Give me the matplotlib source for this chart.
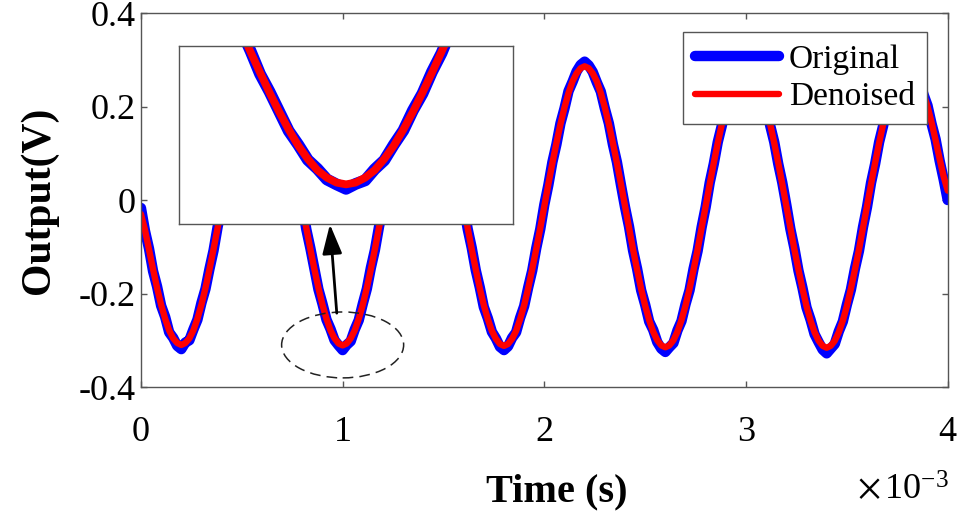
import numpy as np
import matplotlib.pyplot as plt
from matplotlib.patches import Ellipse

plt.rcParams['font.family'] = ['Liberation Serif', 'DejaVu Serif']
plt.rcParams['mathtext.fontset'] = 'stix'

# sample times (s), 0.02 ms spacing
time = np.linspace(0, 4e-3, 201)

# denoised output (V)
denoised = [
    -0.030, -0.064, -0.106, -0.148, -0.188, -0.224, -0.254, -0.279, -0.296, -0.306,
    -0.310, -0.306, -0.296, -0.279, -0.254, -0.224, -0.188, -0.148, -0.105, -0.060,
    -0.013, 0.034, 0.079, 0.122, 0.162, 0.198, 0.228, 0.253, 0.270, 0.281,
    0.285, 0.281, 0.270, 0.253, 0.228, 0.198, 0.162, 0.122, 0.079, 0.034,
    -0.013, -0.060, -0.105, -0.148, -0.188, -0.224, -0.254, -0.279, -0.296, -0.307,
    -0.311, -0.307, -0.296, -0.279, -0.254, -0.224, -0.188, -0.148, -0.105, -0.060,
    -0.013, 0.034, 0.079, 0.122, 0.162, 0.198, 0.228, 0.253, 0.270, 0.281,
    0.285, 0.281, 0.270, 0.253, 0.228, 0.198, 0.162, 0.122, 0.079, 0.034,
    -0.013, -0.060, -0.105, -0.148, -0.189, -0.225, -0.255, -0.280, -0.297, -0.308,
    -0.312, -0.308, -0.297, -0.280, -0.255, -0.225, -0.189, -0.148, -0.105, -0.060,
    -0.013, 0.034, 0.079, 0.122, 0.162, 0.198, 0.229, 0.254, 0.271, 0.282,
    0.286, 0.282, 0.271, 0.254, 0.229, 0.198, 0.162, 0.122, 0.079, 0.034,
    -0.013, -0.060, -0.106, -0.149, -0.190, -0.226, -0.257, -0.282, -0.300, -0.311,
    -0.315, -0.311, -0.300, -0.282, -0.257, -0.226, -0.190, -0.149, -0.106, -0.060,
    -0.013, 0.034, 0.079, 0.122, 0.162, 0.198, 0.228, 0.253, 0.270, 0.281,
    0.285, 0.281, 0.270, 0.253, 0.228, 0.198, 0.162, 0.122, 0.079, 0.034,
    -0.013, -0.060, -0.106, -0.149, -0.190, -0.227, -0.258, -0.283, -0.301, -0.312,
    -0.316, -0.312, -0.301, -0.283, -0.258, -0.227, -0.190, -0.149, -0.106, -0.060,
    -0.013, 0.034, 0.079, 0.122, 0.162, 0.198, 0.228, 0.253, 0.270, 0.281,
    0.285, 0.281, 0.270, 0.253, 0.228, 0.200, 0.166, 0.128, 0.088, 0.050,
    0.020,
]

# original (noisy) output (V)
original = [
    -0.017, -0.066, -0.104, -0.152, -0.185, -0.226, -0.250, -0.283, -0.295, -0.312,
    -0.319, -0.305, -0.300, -0.277, -0.256, -0.220, -0.190, -0.147, -0.108, -0.058,
    -0.015, 0.037, 0.078, 0.125, 0.160, 0.200, 0.225, 0.255, 0.276, 0.287,
    0.294, 0.286, 0.268, 0.255, 0.225, 0.200, 0.160, 0.125, 0.077, 0.037,
    -0.011, -0.063, -0.103, -0.147, -0.191, -0.222, -0.256, -0.276, -0.300, -0.311,
    -0.321, -0.310, -0.302, -0.277, -0.257, -0.222, -0.190, -0.145, -0.107, -0.058,
    -0.016, 0.036, 0.077, 0.125, 0.159, 0.199, 0.231, 0.251, 0.274, 0.285,
    0.293, 0.288, 0.272, 0.250, 0.230, 0.196, 0.165, 0.120, 0.081, 0.031,
    -0.011, -0.062, -0.102, -0.150, -0.187, -0.229, -0.253, -0.282, -0.296, -0.314,
    -0.321, -0.313, -0.295, -0.283, -0.252, -0.227, -0.187, -0.151, -0.103, -0.062,
    -0.010, 0.032, 0.081, 0.119, 0.164, 0.196, 0.233, 0.253, 0.275, 0.289,
    0.296, 0.288, 0.274, 0.252, 0.232, 0.196, 0.164, 0.119, 0.081, 0.032,
    -0.015, -0.057, -0.108, -0.147, -0.193, -0.224, -0.260, -0.278, -0.304, -0.318,
    -0.325, -0.315, -0.306, -0.279, -0.259, -0.223, -0.193, -0.147, -0.109, -0.058,
    -0.015, 0.037, 0.077, 0.124, 0.159, 0.200, 0.226, 0.256, 0.275, 0.285,
    0.294, 0.287, 0.267, 0.256, 0.226, 0.200, 0.159, 0.124, 0.077, 0.037,
    -0.011, -0.062, -0.103, -0.151, -0.188, -0.230, -0.256, -0.287, -0.304, -0.320,
    -0.328, -0.318, -0.308, -0.281, -0.260, -0.224, -0.192, -0.147, -0.109, -0.058,
    -0.015, 0.037, 0.077, 0.124, 0.159, 0.200, 0.226, 0.257, 0.274, 0.288,
    0.294, 0.285, 0.268, 0.256, 0.226, 0.202, 0.163, 0.130, 0.084, 0.044,
    0.000,
]

x_ticks = [0, 1e-3, 2e-3, 3e-3, 4e-3]
x_tick_labels = ['0', '1', '2', '3', '4']
y_ticks = [-0.4, -0.2, 0, 0.2, 0.4]
y_tick_labels = ['-0.4', '-0.2', '0', '0.2', '0.4']

edge = '#555555'
blue_lw = 7.5
red_lw = 4.6

fig = plt.figure(figsize=(9.72, 5.13), dpi=100)
ax = fig.add_axes([0.145, 0.2456, 0.830, 0.729])

ax.plot(time, original, color='blue', lw=blue_lw, solid_capstyle='round',
        solid_joinstyle='round', label='Original')
ax.plot(time, denoised, color='red', lw=red_lw, solid_capstyle='round',
        solid_joinstyle='round', label='Denoised')

ax.set_xlim(0, 4e-3)
ax.set_ylim(-0.4, 0.4)
ax.set_xticks(x_ticks)
ax.set_xticklabels(x_tick_labels)
ax.set_yticks(y_ticks)
ax.set_yticklabels(y_tick_labels)
ax.tick_params(direction='in', length=4, width=1, color=edge, labelsize=26,
               top=True, right=True)
ax.tick_params(axis='x', pad=21)
ax.tick_params(axis='y', pad=4)
for s in ax.spines.values():
    s.set_color(edge)
    s.set_linewidth(1)

ax.set_xlabel('Time (s)', fontsize=29, fontweight='bold')
ax.set_ylabel('Output(V)', fontsize=30, fontweight='bold')
ax.xaxis.set_label_coords(0.515, -0.232)
ax.yaxis.set_label_coords(-0.103, 0.5)

fig.text(857 / 972, 1 - 499 / 513, r'$\times\,\mathregular{10^{-3}}$',
         fontsize=26, ha='left', va='baseline')

# dashed ellipse around the zoomed minimum, arrow to the inset
ax.add_patch(Ellipse((1.0e-3, -0.310), 0.605e-3, 0.141, fill=False,
                     edgecolor='#222222', lw=1.1, linestyle=(0, (7, 4)), zorder=5))
ax.annotate('', xy=(0.937e-3, -0.052), xytext=(0.971e-3, -0.242),
            arrowprops=dict(arrowstyle='-|>,head_length=0.6,head_width=0.2',
                            color='black', lw=2, mutation_scale=30,
                            shrinkA=0, shrinkB=0), zorder=6)

leg = ax.legend(loc='upper right', bbox_to_anchor=(0.974, 0.949), borderaxespad=0,
                fontsize=24, frameon=True, fancybox=False, framealpha=1,
                edgecolor=edge, handlelength=2.5, handletextpad=0.3,
                labelspacing=0.22, borderpad=0.36)
leg.get_frame().set_linewidth(1)

# inset zoom of the minimum near 1 ms
axins = fig.add_axes([0.184, 0.5634, 0.344, 0.347], zorder=10)
axins.plot(time, original, color='blue', lw=blue_lw + 1, solid_capstyle='round',
           solid_joinstyle='round')
axins.plot(time, denoised, color='red', lw=red_lw + 1, solid_capstyle='round',
           solid_joinstyle='round')
axins.set_xlim(0.65e-3, 1.35e-3)
axins.set_ylim(-0.4, 0)
axins.set_xticks([])
axins.set_yticks([])
axins.set_facecolor('white')
for s in axins.spines.values():
    s.set_color(edge)
    s.set_linewidth(1)

fig.savefig('out.png', dpi=100)
